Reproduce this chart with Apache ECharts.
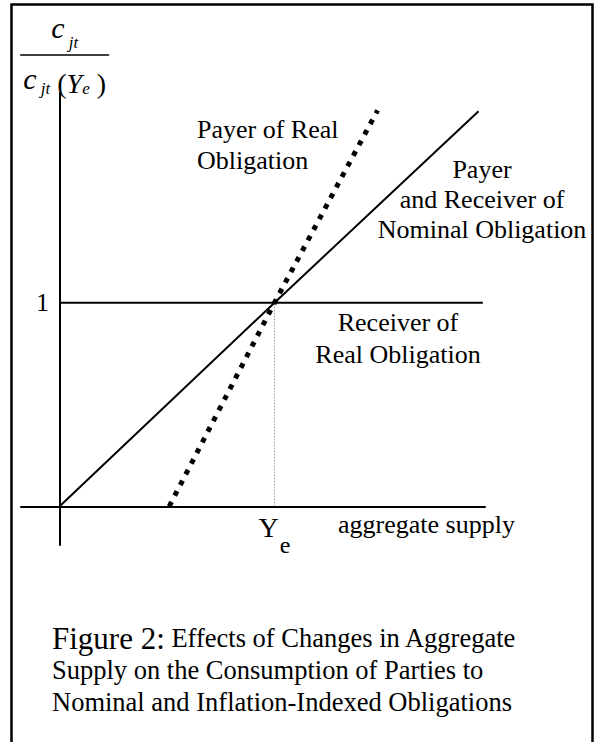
<!DOCTYPE html>
<html><head><meta charset="utf-8">
<script src="https://cdn.jsdelivr.net/npm/echarts@6/dist/echarts.min.js"></script>
<style>html,body{margin:0;padding:0;background:#fff}#chart{width:598px;height:742px}</style>
</head><body><div id="chart"></div>
<script>
// ---- data ----
const nominalObligation = [[0, 0], [1, 1], [1.95, 1.94]];      // payer & receiver of nominal obligation
const realPayer = [[0.51, 0], [1, 1], [1.48, 1.945]];           // payer of real obligation (dotted)
const realReceiver = [[0, 1], [1, 1], [1.97, 1]];               // receiver of real obligation
const equilibriumGuide = [[1, 0], [1, 1]];                      // Y_e guide
const xTickValues = [1];
const xTickLabels = ['Y_e'];
const yTickValues = [1];
const yTickLabels = ['1'];
const xRange = [-0.18, 1.98];
const yRange = [-0.19, 2.03];

const SERIF = "'Liberation Serif', 'Times New Roman', serif";
const chart = echarts.init(document.getElementById('chart'), null, {renderer: 'svg'});

function curveLabel(text, left, top, align, lh) {
  const t = {
    text: text, left: left, top: top, padding: 0,
    textStyle: {fontFamily: SERIF, fontSize: 26, fontWeight: 'normal', lineHeight: lh, color: '#000'}
  };
  if (align) t.textAlign = align;
  return t;
}

const option = {
  animation: false,
  backgroundColor: '#fff',
  title: [
    {
      left: 52, top: 622, padding: 0,
      text: '{f|Figure 2:}{n| Effects of Changes in Aggregate}\n{n|Supply on the Consumption of Parties to}\n{n|Nominal and Inflation-Indexed Obligations}',
      textStyle: {
        fontFamily: SERIF, fontWeight: 'normal', color: '#000',
        rich: {
          f: {fontFamily: SERIF, fontSize: 31, lineHeight: 32, color: '#000'},
          n: {fontFamily: SERIF, fontSize: 26.5, lineHeight: 32, color: '#000'}
        }
      }
    },
    curveLabel('Payer of Real\nObligation', 197, 113.5, null, 31),
    curveLabel('Payer\nand Receiver of\nNominal Obligation', 482, 154, 'center', 30),
    curveLabel('Receiver of\nReal Obligation', 398, 306, 'center', 32)
  ],
  grid: {left: 21, top: 93, width: 464, height: 452, containLabel: false, outerBoundsMode: 'none'},
  xAxis: {
    type: 'value', min: xRange[0], max: xRange[1],
    name: 'aggregate supply', nameLocation: 'end', nameGap: -147,
    nameTextStyle: {fontFamily: SERIF, fontSize: 26, color: '#000', verticalAlign: 'top', lineHeight: 36},
    axisLine: {onZero: true, lineStyle: {color: '#000', width: 2}},
    axisTick: {show: false},
    splitLine: {show: false},
    axisLabel: {
      customValues: xTickValues, margin: -32,
      formatter: function (v) {
        const i = xTickValues.indexOf(v);
        if (i < 0) return '';
        const parts = xTickLabels[i].split('_');
        return '{Y|' + parts[0] + '}{e|' + parts[1] + '}';
      },
      rich: {
        Y: {fontFamily: SERIF, fontSize: 28, lineHeight: 28, color: '#000', verticalAlign: 'top'},
        e: {fontFamily: SERIF, fontSize: 24, lineHeight: 24, color: '#000', verticalAlign: 'top', padding: [20, 0, 0, 1]}
      }
    }
  },
  yAxis: {
    type: 'value', min: yRange[0], max: yRange[1],
    name: '{c|c}{s1| jt}\n{bar| }\n{c2|c}{s2| jt}{p| (}{Y|Y}{s2|e}{p| )}',
    nameLocation: 'end', nameGap: -4,
    nameTextStyle: {
      padding: [0, 0, 0, 10],
      rich: {
        c: {fontFamily: SERIF, fontStyle: 'italic', fontSize: 30, lineHeight: 48, color: '#000'},
        s1: {fontFamily: SERIF, fontStyle: 'italic', fontSize: 17, lineHeight: 17, color: '#000', verticalAlign: 'bottom'},
        bar: {width: 89, height: 1.5, lineHeight: 8, fontSize: 1, backgroundColor: '#000'},
        c2: {fontFamily: SERIF, fontStyle: 'italic', fontSize: 30, lineHeight: 38, color: '#000'},
        s2: {fontFamily: SERIF, fontStyle: 'italic', fontSize: 17, lineHeight: 17, color: '#000', verticalAlign: 'bottom'},
        p: {fontFamily: SERIF, fontSize: 28, lineHeight: 28, color: '#000', verticalAlign: 'bottom'},
        Y: {fontFamily: SERIF, fontStyle: 'italic', fontSize: 28, lineHeight: 28, color: '#000', verticalAlign: 'bottom'}
      }
    },
    axisLine: {onZero: true, lineStyle: {color: '#000', width: 2}},
    axisTick: {show: false},
    splitLine: {show: false},
    axisLabel: {
      customValues: yTickValues, margin: -28,
      fontFamily: SERIF, fontSize: 26, color: '#000',
      formatter: function (v) {
        const i = yTickValues.indexOf(v);
        return i < 0 ? '' : yTickLabels[i];
      }
    }
  },
  series: [
    {name: 'Y_e guide', type: 'line', data: equilibriumGuide, symbol: 'none', silent: true,
     lineStyle: {color: '#9a9a9a', width: 1, type: [1.5, 1.5]}},
    {name: 'Receiver of Real Obligation', type: 'line', data: realReceiver, symbol: 'none', silent: true,
     lineStyle: {color: '#000', width: 2}},
    {name: 'Payer and Receiver of Nominal Obligation', type: 'line', data: nominalObligation, symbol: 'none', silent: true,
     lineStyle: {color: '#000', width: 2}},
    {name: 'Payer of Real Obligation', type: 'line', data: realPayer, symbol: 'none', silent: true,
     lineStyle: {color: '#000', width: 5, type: [5, 7], cap: 'butt'}}
  ],
  graphic: [
    {type: 'rect', silent: true, shape: {x: 11.5, y: 4.5, width: 581, height: 800},
     style: {fill: 'none', stroke: '#000', lineWidth: 2.5}}
  ]
};
chart.setOption(option);
</script>
</body></html>
